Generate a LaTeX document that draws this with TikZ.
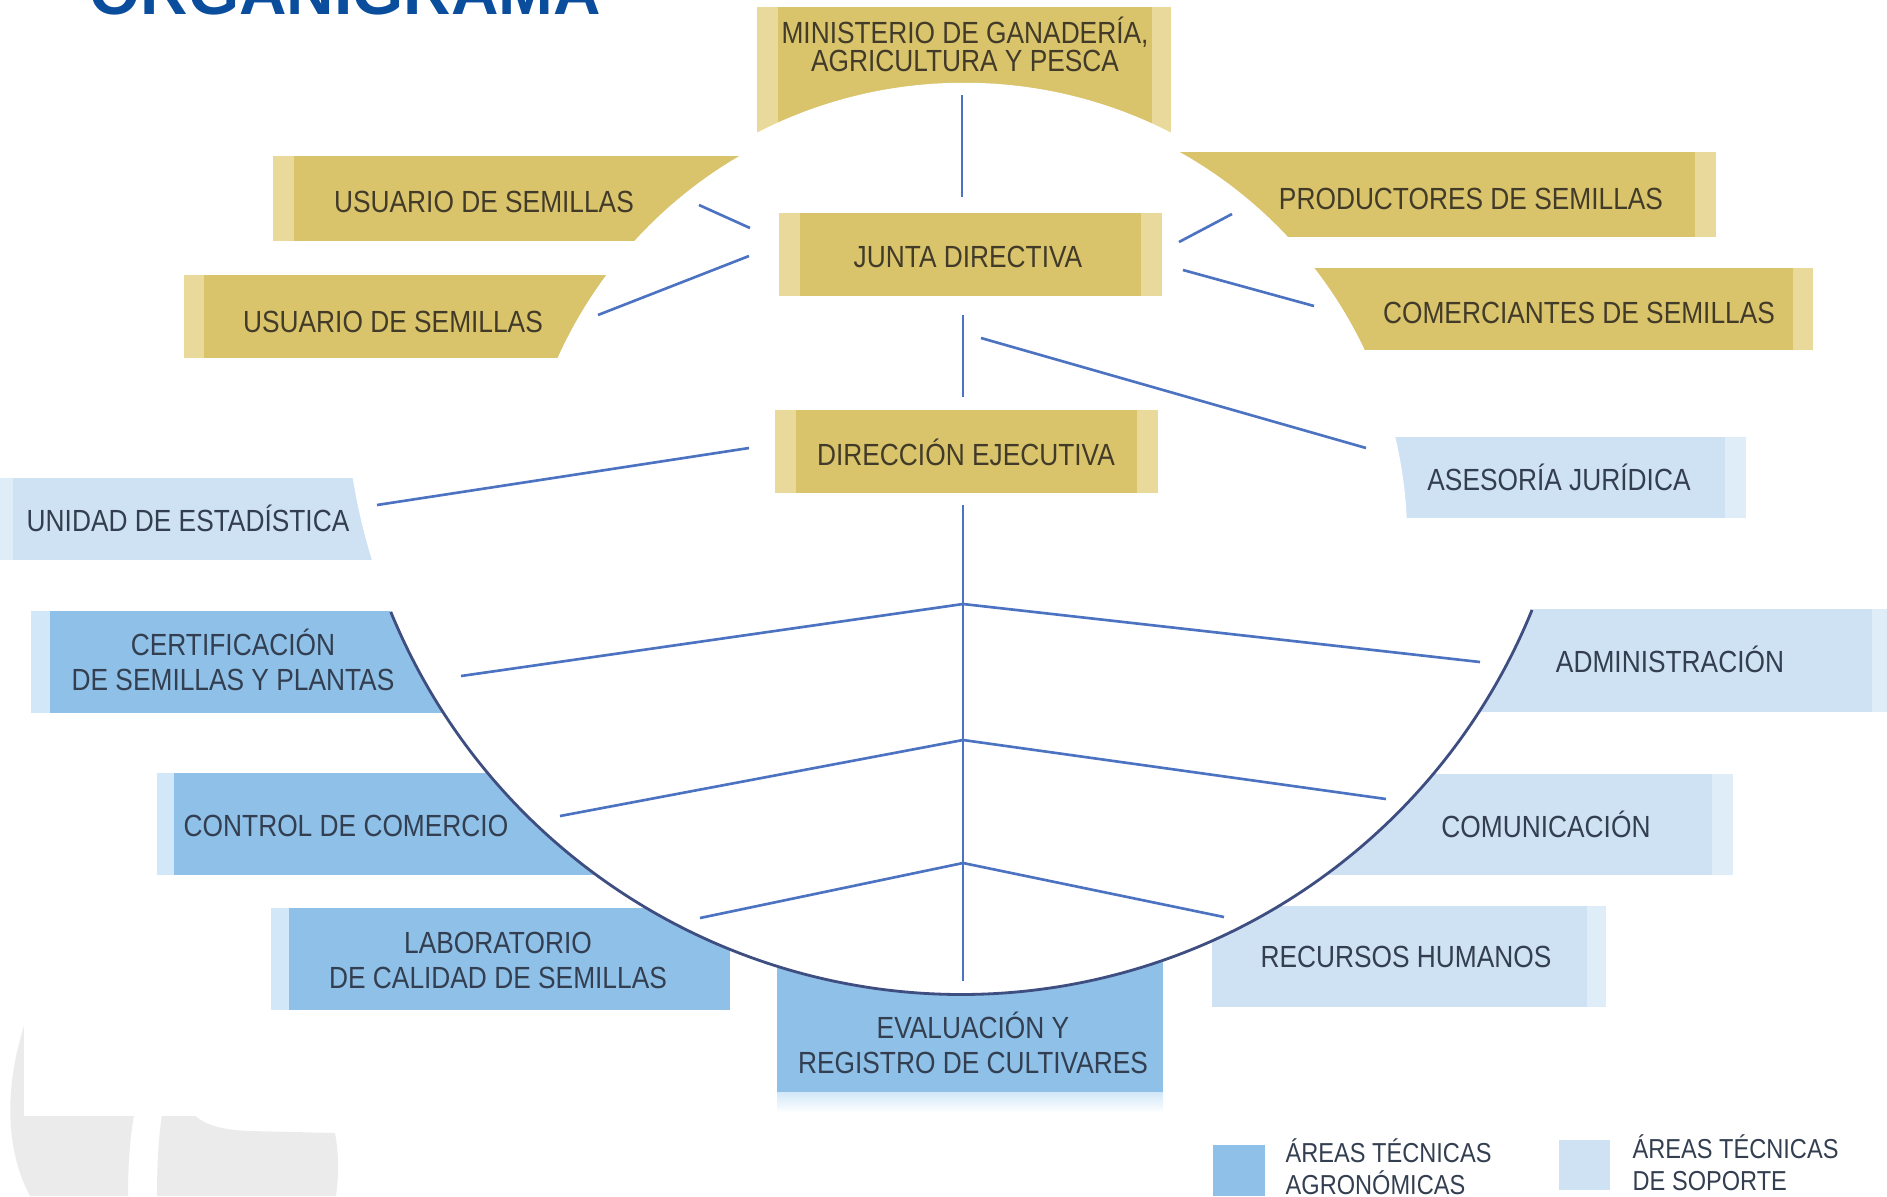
\documentclass[tikz,border=0pt]{standalone}
\usepackage{fontspec}
\newfontfamily\dinfont[FakeStretch=0.86]{Liberation Sans}
\newfontfamily\titlefont{Liberation Sans}
\definecolor{gold}{HTML}{D9C46B}
\definecolor{goldlt}{HTML}{E9DA9B}
\definecolor{agro}{HTML}{8EC0E8}
\definecolor{agrolt}{HTML}{D2E8F8}
\definecolor{sop}{HTML}{CFE2F3}
\definecolor{soplt}{HTML}{DFEDF9}
\definecolor{linecol}{HTML}{4C72C2}
\definecolor{arccol}{HTML}{3E4E80}
\definecolor{txtgold}{HTML}{423B2A}
\definecolor{txtblue}{HTML}{333F50}
\definecolor{titleblue}{HTML}{0A4D9C}
\definecolor{wm}{HTML}{EBEBEB}
\newcommand\lblfont{\dinfont\fontsize{8.7}{9.96}\selectfont}
\newcommand\legfont{\dinfont\fontsize{7.8}{9.0}\selectfont}
\tikzset{
  lbl/.style={font=\lblfont, text=txtgold, align=center, inner sep=0pt},
  lblb/.style={lbl, text=txtblue},
  leg/.style={font=\legfont, text=txtblue, align=left, inner sep=0pt, anchor=west},
  conn/.style={draw=linecol, line width=0.75pt},
}
\begin{document}
\begin{tikzpicture}[x=0.01cm,y=-0.01cm]
\useasboundingbox (0,0) rectangle (1887,1196);
% watermark
\fill[wm] (40,985) .. controls (5,1060) and (0,1140) .. (30,1196) -- (128,1196) .. controls (128,1165) and (130,1135) .. (135,1110) -- (135,985) -- cycle;
\fill[wm] (163,1110) -- (190,1110) .. controls (200,1124) and (220,1130) .. (250,1131) -- (335,1133) .. controls (340,1160) and (338,1180) .. (336,1196) -- (157,1196) .. controls (157,1160) and (159,1130) .. (163,1110) -- cycle;
\fill[white] (24,850) rectangle (420,1116);
% blue boxes
\fill[soplt] (0,478) rectangle (13,560); \fill[sop] (13,478) rectangle (400,560);
\fill[agrolt] (31,611) rectangle (50,713); \fill[agro] (50,611) rectangle (470,713);
\fill[agrolt] (157,773) rectangle (174,875); \fill[agro] (174,773) rectangle (620,875);
\fill[agrolt] (271,908) rectangle (289,1010); \fill[agro] (289,908) rectangle (730,1010);
\shade[top color=agrolt, bottom color=white] (777,1092) rectangle (1163,1113);
\fill[agro] (777,930) rectangle (1163,1092);
\fill[sop] (1440,609) rectangle (1872,712); \fill[soplt] (1872,609) rectangle (1887,712);
\fill[sop] (1300,774) rectangle (1712,875); \fill[soplt] (1712,774) rectangle (1733,875);
\fill[sop] (1212,906) rectangle (1587,1007); \fill[soplt] (1587,906) rectangle (1606,1007);
% legend squares
\fill[agro] (1213,1145) rectangle (1265,1196);
\fill[sop] (1559,1140) rectangle (1610,1190);
% lower white circle
\fill[white] (961,378) circle[radius=6.16cm];
\draw[arccol, line width=0.8pt] (961,378) ++(202.3:6.16cm) arc[start angle=202.3, end angle=337.9, radius=6.16cm];
% ministry box, cut by its own arc
\fill[goldlt] (757,7) rectangle (778,134); \fill[gold] (778,7) rectangle (1152,134); \fill[goldlt] (1152,7) rectangle (1171,134);
\fill[white] (964,536) circle[radius=4.53cm];
% gold boxes outside the upper circle
\fill[goldlt] (273,156) rectangle (294,241); \fill[gold] (294,156) rectangle (780,241);
\fill[goldlt] (184,275) rectangle (204,358); \fill[gold] (204,275) rectangle (660,358);
\fill[gold] (1150,152) rectangle (1695,237); \fill[goldlt] (1695,152) rectangle (1716,237);
\fill[gold] (1290,268) rectangle (1793,350); \fill[goldlt] (1793,268) rectangle (1813,350);
\fill[sop] (1370,437) rectangle (1725,518); \fill[soplt] (1725,437) rectangle (1746,518);
% upper white circle
\fill[white] (963,540) circle[radius=4.44cm];
% inner gold boxes
\fill[goldlt] (779,213) rectangle (800,296); \fill[gold] (800,213) rectangle (1141,296); \fill[goldlt] (1141,213) rectangle (1162,296);
\fill[goldlt] (775,410) rectangle (796,493); \fill[gold] (796,410) rectangle (1137,493); \fill[goldlt] (1137,410) rectangle (1158,493);
% labels
\node[lbl, font=\dinfont\fontsize{8.7}{7.97}\selectfont] (min) at (965,44) {MINISTERIO DE GANADERÍA,\\AGRICULTURA Y PESCA};
\node[lbl] (jun) at (968,257) {JUNTA DIRECTIVA};
\node[lbl] (dir) at (966,452) {DIRECCIÓN EJECUTIVA};
\node[lbl] (us1) at (484,202) {USUARIO DE SEMILLAS};
\node[lbl] (us2) at (393,322) {USUARIO DE SEMILLAS};
\node[lbl] (pro) at (1471,199) {PRODUCTORES DE SEMILLAS};
\node[lbl] (com) at (1579,313) {COMERCIANTES DE SEMILLAS};
\node[lblb] (ase) at (1559,477) {ASESORÍA JURÍDICA};
\node[lblb] (uni) at (188,518) {UNIDAD DE ESTADÍSTICA};
\node[lblb] (cer) at (233,660) {CERTIFICACIÓN\\DE SEMILLAS Y PLANTAS};
\node[lblb] (con) at (346,826) {CONTROL DE COMERCIO};
\node[lblb] (lab) at (498,960) {LABORATORIO\\DE CALIDAD DE SEMILLAS};
\node[lblb] (eva) at (973,1043) {EVALUACIÓN Y\\REGISTRO DE CULTIVARES};
\node[lblb] (adm) at (1670,659) {ADMINISTRACIÓN};
\node[lblb] (cmu) at (1546,824) {COMUNICACIÓN};
\node[lblb] (rrh) at (1406,957) {RECURSOS HUMANOS};
\node[leg] (lg1) at (1285,1167) {ÁREAS TÉCNICAS\\AGRONÓMICAS};
\node[leg] (lg2) at (1632,1163) {ÁREAS TÉCNICAS\\DE SOPORTE};
% connector end points
\coordinate (minB) at (962,95);
\coordinate (junT) at (962,197);
\coordinate (us1E) at (699,205);
\coordinate (junL1) at (750,228);
\coordinate (us2E) at (598,315);
\coordinate (junL2) at (749,256);
\coordinate (proE) at (1232,214);
\coordinate (junR1) at (1179,242);
\coordinate (comE) at (1314,306);
\coordinate (junR2) at (1183,270);
\coordinate (junB) at (963,315);
\coordinate (dirT) at (963,397);
\coordinate (junA) at (981,338);
\coordinate (aseE) at (1366,448);
\coordinate (dirL) at (749,448);
\coordinate (uniE) at (377,505);
\coordinate (dirB) at (963,505);
\coordinate (evaT) at (963,981);
\coordinate (b1) at (963,604);
\coordinate (b2) at (963,740);
\coordinate (b3) at (963,863);
\coordinate (cerE) at (461,676);
\coordinate (admE) at (1480,662);
\coordinate (conE) at (560,816);
\coordinate (cmuE) at (1386,799);
\coordinate (labE) at (700,918);
\coordinate (rrhE) at (1224,917);
% connectors
\draw[conn] (minB) -- (junT);
\draw[conn] (us1E) -- (junL1);
\draw[conn] (us2E) -- (junL2);
\draw[conn] (proE) -- (junR1);
\draw[conn] (comE) -- (junR2);
\draw[conn] (junB) -- (dirT);
\draw[conn] (junA) -- (aseE);
\draw[conn] (dirL) -- (uniE);
\draw[conn] (dirB) -- (evaT);
\draw[conn] (cerE) -- (b1) -- (admE);
\draw[conn] (conE) -- (b2) -- (cmuE);
\draw[conn] (labE) -- (b3) -- (rrhE);
% title
\node[anchor=base west, font=\titlefont\bfseries\fontsize{18.7}{19}\selectfont, text=titleblue, inner sep=0pt] (title) at (89,14) {ORGANIGRAMA};
\end{tikzpicture}
\end{document}
